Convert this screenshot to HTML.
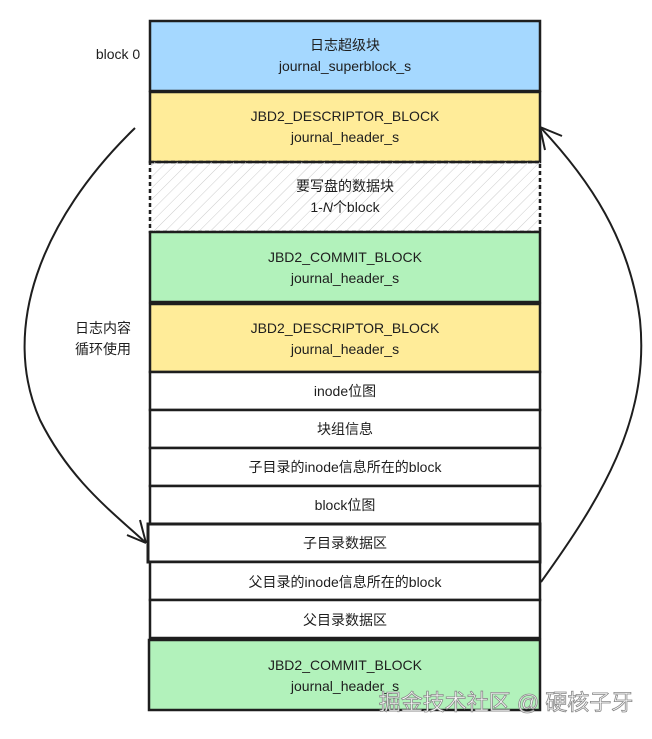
<!DOCTYPE html>
<html><head><meta charset="utf-8"><style>
html,body{margin:0;padding:0;background:#fff;}
text{font-family:"Liberation Sans","Noto Sans CJK SC",sans-serif;font-size:14px;fill:#1e1e1e;text-anchor:middle;}
</style></head><body>
<svg width="652" height="734" viewBox="0 0 652 734" xmlns="http://www.w3.org/2000/svg">
<defs>
<pattern id="h" width="8" height="8" patternUnits="userSpaceOnUse" patternTransform="rotate(45)">
<line x1="0" y1="0" x2="0" y2="8" stroke="#ccc" stroke-width="1"/>
</pattern>
</defs>
<g stroke="#1e1e1e" stroke-width="2.5">
<rect x="150" y="21" width="390" height="70" fill="#a5d8ff"/>
<rect x="150" y="92" width="390" height="70" fill="#ffec99"/>
<rect x="150" y="162" width="390" height="70" fill="url(#h)" stroke-dasharray="4 3"/>
<rect x="150" y="232" width="390" height="70" fill="#b2f2bb"/>
<rect x="150" y="304" width="390" height="68" fill="#ffec99"/>
<rect x="150" y="372" width="390" height="38" fill="#fff"/>
<rect x="150" y="410" width="390" height="38" fill="#fff"/>
<rect x="150" y="448" width="390" height="38" fill="#fff"/>
<rect x="150" y="486" width="390" height="38" fill="#fff"/>
<rect x="148" y="524" width="392" height="38" fill="#fff" stroke-width="3"/>
<rect x="150" y="562" width="390" height="38" fill="#fff"/>
<rect x="150" y="600" width="390" height="38" fill="#fff"/>
<rect x="149" y="640" width="391" height="70" fill="#b2f2bb"/>
</g>
<g fill="none" stroke="#1e1e1e" stroke-width="2">
<path d="M135 128 C 40 220, 0 330, 40 420 C 70 480, 110 510, 146 543"/>
<path d="M146 543 L140 520 M146 543 L127 535"/>
<path d="M541 582 C 600 500, 650 420, 640 320 C 630 240, 590 180, 540 127"/>
<path d="M540 127 L545 150 M540 127 L562 136"/>
</g>
<text x="345" y="50">日志超级块</text>
<text x="345" y="71">journal_superblock_s</text>
<text x="345" y="121">JBD2_DESCRIPTOR_BLOCK</text>
<text x="345" y="142">journal_header_s</text>
<text x="345" y="191">要写盘的数据块</text>
<text x="345" y="212">1-<tspan font-style="italic">N</tspan>个block</text>
<text x="345" y="262">JBD2_COMMIT_BLOCK</text>
<text x="345" y="283">journal_header_s</text>
<text x="345" y="333">JBD2_DESCRIPTOR_BLOCK</text>
<text x="345" y="354">journal_header_s</text>
<text x="345" y="396">inode位图</text>
<text x="345" y="434">块组信息</text>
<text x="345" y="472">子目录的inode信息所在的block</text>
<text x="345" y="510">block位图</text>
<text x="345" y="548">子目录数据区</text>
<text x="345" y="587">父目录的inode信息所在的block</text>
<text x="345" y="625">父目录数据区</text>
<text x="345" y="670">JBD2_COMMIT_BLOCK</text>
<text x="345" y="691">journal_header_s</text>
<text x="118" y="59">block 0</text>
<text x="103" y="333">日志内容</text>
<text x="103" y="354">循环使用</text>
<text x="506" y="710" style="font-size:22px;fill:#fff;stroke:#888;stroke-width:0.8">掘金技术社区 @ 硬核子牙</text>
</svg>
</body></html>
